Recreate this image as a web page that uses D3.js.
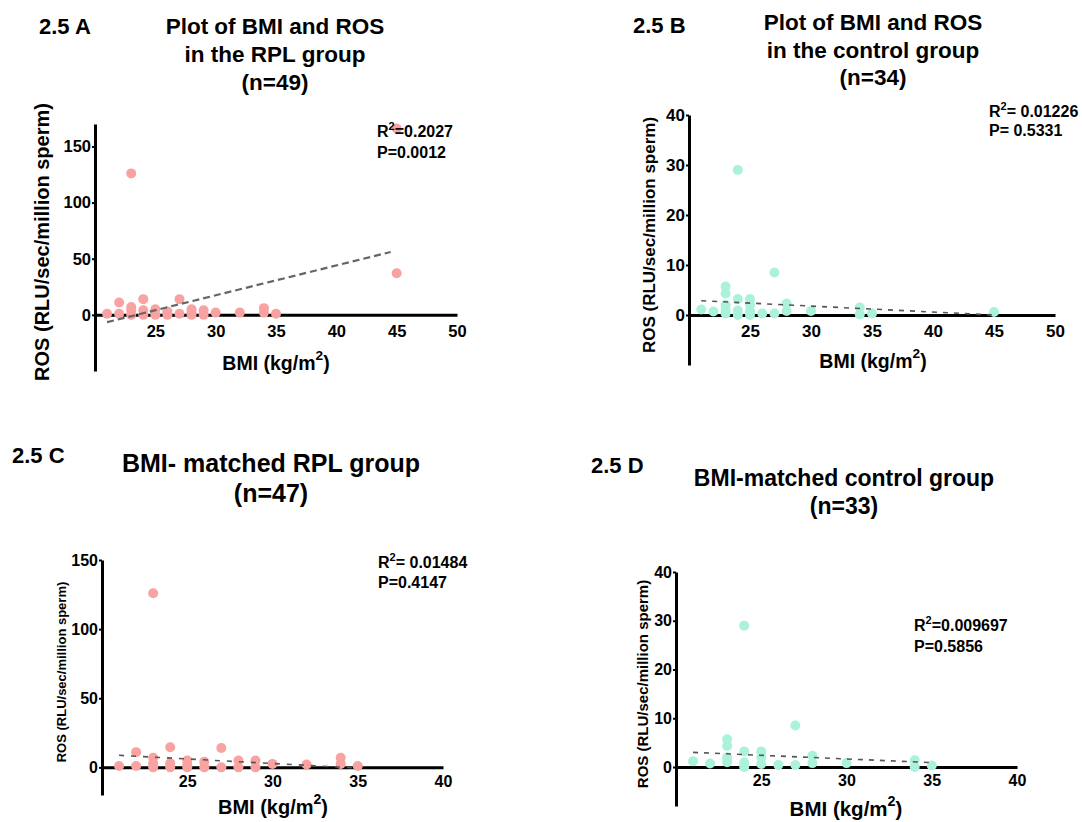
<!DOCTYPE html>
<html>
<head>
<meta charset="utf-8">
<script src="https://cdn.jsdelivr.net/npm/d3@7"></script>
<style>
  body { margin: 0; background: #fff; }
  text { font-family: "Liberation Sans", Arial, sans-serif; font-weight: bold; fill: #000; }
</style>
</head>
<body>
<div id="chart"></div>
<script>
// ---- data ----
const rplBmi = [21, 22, 22, 23, 23, 23, 23, 24, 24, 24, 25, 25, 26, 26, 27, 27, 28, 28, 28, 29, 29, 30, 32, 34, 34, 35, 45, 45];
const rplRos = [1, 11, 1, 126, 7, 4, 0, 14, 4, 0, 5, 0, 3, 0, 14, 1, 5, 2, 0, 4, 0, 2, 2, 6, 2, 1, 37, 166];
const rplFitBmi = [21, 44.5];
const rplFitRos = [-6.5, 56];

const ctrlBmi = [21, 22, 23, 23, 23, 23, 23, 24, 24, 24, 24, 25, 25, 25, 25, 26, 27, 27, 28, 28, 30, 34, 34, 35, 45];
const ctrlRos = [1.1, 0.7, 5.7, 4.3, 2, 1, 0.3, 29, 3.2, 0.9, 0, 3.2, 2, 0.7, 0, 0.3, 8.5, 0.3, 2.3, 0.8, 0.8, 1.5, 0.1, 0.3, 0.6];
const ctrlFitBmi = [21, 45];
const ctrlFitRos = [2.85, 0];

const matchedRplBmi = [21, 22, 22, 23, 23, 23, 23, 24, 24, 24, 25, 25, 25, 26, 26, 27, 27, 28, 28, 29, 29, 30, 32, 34, 34, 35];
const matchedRplRos = [1, 11, 1, 126, 7, 3, 0, 14.5, 3, 0, 5, 2, 0, 4, 0, 14, 0, 5, 0, 5, 0, 2.5, 2, 7, 2.5, 1];
const matchedRplFitBmi = [21, 35];
const matchedRplFitRos = [8.7, -0.5];

const matchedCtrlBmi = [21, 22, 23, 23, 23, 23, 24, 24, 24, 24, 25, 25, 25, 26, 27, 27, 28, 28, 30, 34, 34, 35];
const matchedCtrlRos = [1.2, 0.7, 5.7, 4.3, 2, 1, 29, 3.2, 0.9, 0, 3.2, 2, 0.6, 0.4, 8.5, 0.4, 2.3, 0.8, 0.8, 1.4, 0, 0.3];
const matchedCtrlFitBmi = [21, 35];
const matchedCtrlFitRos = [3.0, 0.9];

const xTicksWide = [25, 30, 35, 40, 45, 50];
const xTicksNarrow = [25, 30, 35, 40];
const yTicksRpl = [0, 50, 100, 150];
const yTicksCtrl = [0, 10, 20, 30, 40];

const pink = "#f9a2a2";
const mint = "#aaf2dc";

const width = 1082, height = 822;
const svg = d3.select("#chart")
    .append("svg")
    .attr("width", width)
    .attr("height", height);

function drawPanel(p) {
    const x = d3.scaleLinear().domain(p.xDomain).range([p.left, p.right]);
    const y = d3.scaleLinear().domain(p.yDomain).range([p.bottom, p.top]);
    const g = svg.append("g");

    // y axis
    const yAxis = g.append("g")
        .attr("transform", `translate(${p.left},0)`)
        .call(d3.axisLeft(y).tickValues(p.yTicks).tickSize(3).tickSizeOuter(0).tickPadding(1));
    yAxis.select(".domain").attr("stroke", "#000").attr("stroke-width", 3);
    yAxis.selectAll(".tick line").attr("stroke", "#000").attr("stroke-width", 2);
    yAxis.selectAll(".tick text").style("font-size", p.tickFont + "px").attr("fill", "#000");

    // x axis crossing at 0
    const xAxis = g.append("g")
        .attr("transform", `translate(0,${y(0)})`)
        .call(d3.axisBottom(x).tickValues(p.xTicks).tickSize(0).tickSizeOuter(0).tickPadding(p.xPad));
    xAxis.select(".domain").attr("stroke", "#000").attr("stroke-width", 3);
    xAxis.selectAll(".tick text").style("font-size", p.tickFont + "px").attr("fill", "#000");

    // points
    const pts = p.bmi.map((b, i) => ({ b, r: p.ros[i] }));
    g.selectAll("circle")
        .data(pts)
        .enter()
        .append("circle")
        .attr("cx", d => x(d.b))
        .attr("cy", d => y(d.r))
        .attr("r", p.dotR)
        .attr("fill", p.color);

    // regression line
    const fit = p.fitBmi.map((b, i) => [b, p.fitRos[i]]);
    g.append("path")
        .datum(fit)
        .attr("d", d3.line().x(d => x(d[0])).y(d => y(d[1])))
        .attr("fill", "none")
        .attr("stroke", p.lineColor)
        .attr("stroke-width", p.lineWidth)
        .attr("stroke-dasharray", p.dash);

    // panel tag and title
    g.append("text").attr("x", p.tag[1]).attr("y", p.tag[2])
        .style("font-size", "22px").text(p.tag[0]);
    p.title.forEach((t, i) => {
        g.append("text")
            .attr("x", p.titleX).attr("y", p.titleY[i])
            .attr("text-anchor", "middle")
            .style("font-size", p.titleFont + "px")
            .text(t);
    });

    // stats
    const r2 = g.append("text").attr("x", p.statX).attr("y", p.statY[0]).style("font-size", "16px");
    r2.append("tspan").text("R");
    r2.append("tspan").attr("dy", -7).style("font-size", "11px").text("2");
    r2.append("tspan").attr("dy", 7).text(p.r2);
    g.append("text").attr("x", p.statX).attr("y", p.statY[1]).style("font-size", "16px").text(p.pVal);

    // axis titles
    const fs = p.xLabel[2];
    const xl = g.append("text")
        .attr("x", p.xLabel[0]).attr("y", p.xLabel[1])
        .attr("text-anchor", "middle")
        .style("font-size", fs + "px");
    xl.append("tspan").text("BMI (kg/m");
    xl.append("tspan").attr("dy", -fs * 0.5).style("font-size", (fs * 0.7) + "px").text("2");
    xl.append("tspan").attr("dy", fs * 0.5).text(")");

    g.append("text")
        .attr("transform", `translate(${p.yLabel[0]},${p.yLabel[1]}) rotate(-90)`)
        .attr("text-anchor", "middle")
        .style("font-size", p.yLabel[2] + "px")
        .text("ROS (RLU/sec/million sperm)");
}

drawPanel({
    bmi: rplBmi, ros: rplRos, fitBmi: rplFitBmi, fitRos: rplFitRos,
    xDomain: [20, 50], yDomain: [-50, 170], xTicks: xTicksWide, yTicks: yTicksRpl,
    left: 95, right: 457, top: 124, bottom: 371,
    tickFont: 16.5, xPad: 10, dotR: 5, color: pink,
    lineColor: "#666", lineWidth: 2.2, dash: "7,4",
    tag: ["2.5 A", 39, 34],
    title: ["Plot of BMI and ROS", "in the RPL group", "(n=49)"], titleX: 275, titleY: [34, 62, 90], titleFont: 22.5,
    statX: 377, statY: [137, 158], r2: "=0.2027", pVal: "P=0.0012",
    xLabel: [276, 370, 19.5], yLabel: [49, 242, 20]
});

drawPanel({
    bmi: ctrlBmi, ros: ctrlRos, fitBmi: ctrlFitBmi, fitRos: ctrlFitRos,
    xDomain: [20, 50], yDomain: [-10, 40], xTicks: xTicksWide, yTicks: yTicksCtrl,
    left: 689, right: 1055, top: 115, bottom: 365,
    tickFont: 17, xPad: 10, dotR: 5, color: mint,
    lineColor: "#555", lineWidth: 1.6, dash: "5,6",
    tag: ["2.5 B", 633, 33],
    title: ["Plot of BMI and ROS", "in the control group", "(n=34)"], titleX: 873, titleY: [30, 58, 85], titleFont: 22.5,
    statX: 989, statY: [117, 136], r2: "= 0.01226", pVal: "P= 0.5331",
    xLabel: [873, 368, 19.5], yLabel: [655, 235, 17]
});

drawPanel({
    bmi: matchedRplBmi, ros: matchedRplRos, fitBmi: matchedRplFitBmi, fitRos: matchedRplFitRos,
    xDomain: [20, 40], yDomain: [-20, 150], xTicks: xTicksNarrow, yTicks: yTicksRpl,
    left: 102, right: 443, top: 560, bottom: 795,
    tickFont: 16, xPad: 8, dotR: 5, color: pink,
    lineColor: "#555", lineWidth: 1.6, dash: "5,7",
    tag: ["2.5 C", 12, 463],
    title: ["BMI- matched RPL group", "(n=47)"], titleX: 271, titleY: [472, 502], titleFont: 25,
    statX: 378, statY: [568, 588], r2: "= 0.01484", pVal: "P=0.4147",
    xLabel: [273, 814, 20], yLabel: [66, 672, 13]
});

drawPanel({
    bmi: matchedCtrlBmi, ros: matchedCtrlRos, fitBmi: matchedCtrlFitBmi, fitRos: matchedCtrlFitRos,
    xDomain: [20, 40], yDomain: [-8, 40], xTicks: xTicksNarrow, yTicks: yTicksCtrl,
    left: 676, right: 1017, top: 572, bottom: 806,
    tickFont: 16, xPad: 8, dotR: 5, color: mint,
    lineColor: "#555", lineWidth: 1.6, dash: "5,6",
    tag: ["2.5 D", 591, 473],
    title: ["BMI-matched control group", "(n=33)"], titleX: 844, titleY: [486, 514], titleFont: 23,
    statX: 914, statY: [631, 652], r2: "=0.009697", pVal: "P=0.5856",
    xLabel: [846, 816, 20.5], yLabel: [648, 684, 15]
});
</script>
</body>
</html>
